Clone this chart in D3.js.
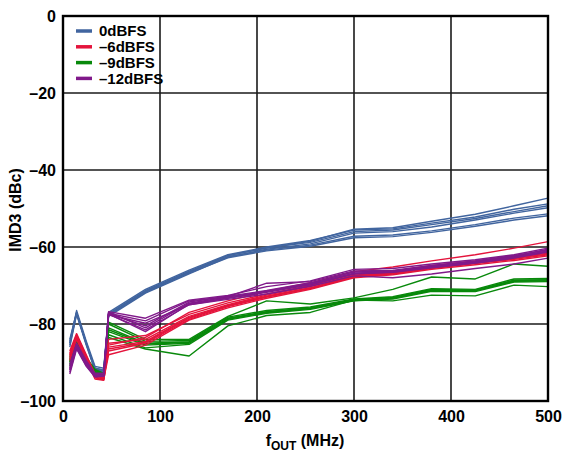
<!DOCTYPE html>
<html>
<head>
<meta charset="utf-8">
<script src="https://cdn.jsdelivr.net/npm/d3@7"></script>
<style>
  html, body { margin: 0; padding: 0; background: #fff; }
  svg text { font-family: "Liberation Sans", Arial, sans-serif; font-weight: bold; fill: #000; }
</style>
</head>
<body>
<svg id="chart" width="562" height="457"></svg>
<script>
// Output frequency (MHz) at which IMD3 was measured
const freqs = [7, 14, 24, 33, 42, 47, 85, 130, 170, 210, 255, 300, 340, 380, 425, 465, 500];

// IMD3 (dBc), one row per device, for each output level
const imd0dBFS = [
  [-84, -77, -85, -91.5, -92, -77.5, -71.5, -66.5, -62.2, -60.2, -58.8, -56, -55.6, -54.2, -52.6, -50.8, -49.3],
  [-85, -76.5, -84.5, -91, -91.5, -77, -71, -66, -62, -60, -58.3, -55.6, -55.3, -53.8, -52.2, -50.2, -48.8],
  [-86, -77.5, -85.5, -92, -92.5, -78, -72, -67, -62.6, -60.6, -59.2, -56.4, -56, -54.8, -53, -51.2, -49.8],
  [-84.5, -77, -85, -91.5, -92, -77.3, -71.3, -66.3, -62.2, -60.3, -58.5, -55.4, -55, -53.3, -51.5, -49.3, -47.3],
  [-85.5, -77.3, -85.2, -92, -92.3, -77.8, -71.8, -66.8, -62.8, -61, -59.8, -57.6, -57.3, -56.2, -54.6, -53, -51.9],
  [-85, -77.2, -85, -91.8, -92.2, -77.6, -71.6, -66.6, -62.5, -60.8, -59.5, -57.2, -56.9, -55.8, -54.2, -52.5, -51.4]
];
const imdMinus6dBFS = [
  [-87, -82.5, -88, -93, -94, -84, -83, -77.5, -74.5, -72.2, -70, -67, -66.2, -64.8, -63.6, -62.4, -61.2],
  [-88, -83, -88.5, -93.5, -94, -85, -84, -78, -75, -72.5, -70.3, -67.3, -66.5, -65, -63.8, -62.6, -61.3],
  [-89, -83.5, -89, -94, -94.5, -86, -84.5, -78.3, -75.2, -72.8, -70.6, -67.5, -66.7, -65.3, -64, -62.8, -61.6],
  [-87.5, -82.8, -88.3, -93.3, -93.8, -87, -85, -78.8, -75.5, -73, -70.8, -67.8, -67, -65.6, -64.3, -63.2, -62],
  [-88.5, -83.2, -88.8, -93.8, -94.3, -88, -85.5, -79, -75.8, -73.3, -71, -68, -67.2, -65.8, -64.6, -63.5, -62.3],
  [-88, -83, -88.5, -93.5, -94, -85.5, -83.5, -77, -74, -71.5, -69.3, -66.4, -65.2, -63.6, -62, -60.3, -58.6],
  [-89.5, -84, -89.5, -94.3, -94.6, -86.5, -84.8, -78.5, -75.3, -72.9, -70.7, -67.6, -66.9, -65.5, -64.2, -63, -61.8]
];
const imdMinus9dBFS = [
  [-89, -84, -89, -92, -93, -80, -84.5, -84.3, -78.2, -76.5, -75.6, -73.5, -72.9, -70.8, -71, -68.3, -68.2],
  [-90, -84.5, -89.5, -92.3, -93.3, -81, -85, -84.6, -78.5, -76.8, -75.8, -73.7, -73.1, -71, -71.2, -68.6, -68.5],
  [-91, -85, -90, -92.6, -93.5, -82, -85.5, -85, -78.8, -77, -76, -73.9, -73.3, -71.3, -71.4, -68.9, -68.8],
  [-88.5, -83.8, -88.7, -91.8, -92.8, -82.8, -86.2, -85.3, -79, -77.2, -76.2, -74, -73.5, -71.5, -71.6, -69.1, -69],
  [-89.5, -84.2, -89.2, -92.2, -93.1, -79.5, -84, -84, -78, -74, -74.8, -73.2, -71, -67.8, -68.3, -64.4, -65],
  [-90.5, -84.8, -89.8, -92.5, -93.4, -83.5, -86.5, -88.3, -80.5, -77.8, -77, -73.8, -74, -72.5, -72.7, -69.9, -70.3],
  [-89.8, -84.3, -89.4, -92.1, -93.2, -81.5, -85.2, -84.8, -78.6, -76.9, -75.9, -73.8, -73.2, -71.1, -71.3, -68.7, -68.6]
];
const imdMinus12dBFS = [
  [-91, -85.5, -90, -93, -93, -77, -81, -74.6, -73, -71.5, -69.5, -66.8, -66.4, -65.2, -64, -62.6, -61],
  [-92, -86, -90.5, -93.5, -93.2, -77.3, -80.5, -74.3, -72.8, -71.3, -69.3, -66.5, -66.2, -65, -63.8, -62.4, -60.6],
  [-93, -86.5, -91, -93.8, -93.5, -77.6, -79.8, -75, -73.3, -71.8, -69.8, -67, -66.6, -65.4, -64.2, -62.9, -61.3],
  [-90.5, -85, -89.5, -92.8, -92.8, -76.8, -78.5, -73.8, -72.6, -70.3, -68.8, -65.8, -65.6, -64.4, -63.3, -62, -60.3],
  [-91.5, -85.8, -90.2, -93.2, -93.4, -77.5, -81.5, -75, -73.6, -72.2, -70.2, -67.5, -68, -67, -65.6, -64.4, -62.9],
  [-92.5, -86.2, -90.8, -93.6, -93.6, -77.2, -79.2, -74, -72.9, -69.4, -69, -66.2, -66.1, -64.8, -63.6, -62.2, -60.8],
  [-91.8, -85.6, -90.4, -93.4, -93.3, -77.4, -82, -74.8, -73.2, -71.6, -69.6, -66.9, -66.5, -65.3, -64.1, -62.7, -61.1]
];

const seriesNames = ["0dBFS", "\u20136dBFS", "\u20139dBFS", "\u201312dBFS"];
const seriesColors = ["#41659f", "#e4143c", "#08890b", "#80198a"];
const xTicks = [0, 100, 200, 300, 400, 500];
const yTicks = [0, -20, -40, -60, -80, -100];

const seriesData = [imd0dBFS, imdMinus6dBFS, imdMinus9dBFS, imdMinus12dBFS];
const drawOrder = [0, 2, 1, 3];

const svg = d3.select("#chart");
const plot = { left: 63, right: 548, top: 16, bottom: 401 };

const x = d3.scaleLinear().domain([0, 500]).range([plot.left, plot.right]);
const y = d3.scaleLinear().domain([-100, 0]).range([plot.bottom, plot.top]);

const fmt = v => (v < 0 ? "\u2013" + Math.abs(v) : String(v));

// Grid
const grid = svg.append("g");
grid.selectAll("line.v").data(xTicks.slice(1, -1)).join("line")
  .attr("x1", d => x(d)).attr("x2", d => x(d))
  .attr("y1", plot.top).attr("y2", plot.bottom)
  .attr("stroke", "#1a1a1a").attr("stroke-width", 1.6);
grid.selectAll("line.h").data(yTicks.slice(1, -1)).join("line")
  .attr("x1", plot.left).attr("x2", plot.right)
  .attr("y1", d => y(d)).attr("y2", d => y(d))
  .attr("stroke", "#1a1a1a").attr("stroke-width", 1.6);

// Traces
const line = d3.line().x((d, i) => x(freqs[i])).y(d => y(d));
const traces = svg.append("g");
drawOrder.forEach(s => {
  traces.append("g").selectAll("path").data(seriesData[s]).join("path")
    .attr("d", line)
    .attr("fill", "none")
    .attr("stroke", seriesColors[s])
    .attr("stroke-width", 1.4)
    .attr("stroke-linejoin", "round");
});

// Frame
svg.append("rect")
  .attr("x", plot.left).attr("y", plot.top)
  .attr("width", plot.right - plot.left).attr("height", plot.bottom - plot.top)
  .attr("fill", "none").attr("stroke", "#000").attr("stroke-width", 2.4);

// Axes
const xAxis = svg.append("g").attr("transform", `translate(0,${plot.bottom})`)
  .call(d3.axisBottom(x).tickValues(xTicks).tickSize(0).tickPadding(10).tickFormat(fmt));
const yAxis = svg.append("g").attr("transform", `translate(${plot.left},0)`)
  .call(d3.axisLeft(y).tickValues(yTicks).tickSize(0).tickPadding(7).tickFormat(fmt));
[xAxis, yAxis].forEach(a => {
  a.select(".domain").remove();
  a.selectAll("text").attr("font-size", 16).attr("font-family", "Liberation Sans, Arial, sans-serif").attr("font-weight", "bold");
});

// Axis titles
const xt = svg.append("text").attr("x", 305).attr("y", 446).attr("text-anchor", "middle").attr("font-size", 16);
xt.append("tspan").text("f");
xt.append("tspan").attr("font-size", 12).attr("dy", 4).text("OUT");
xt.append("tspan").attr("dy", -4).text(" (MHz)");

svg.append("text")
  .attr("transform", "translate(21,210) rotate(-90)")
  .attr("text-anchor", "middle").attr("font-size", 16)
  .text("IMD3 (dBc)");

// Legend
const legend = svg.append("g").attr("transform", "translate(76,31)");
seriesNames.forEach((name, i) => {
  const g = legend.append("g").attr("transform", `translate(0,${i * 15.8})`);
  g.append("line").attr("x1", 0).attr("x2", 16).attr("y1", 0).attr("y2", 0)
    .attr("stroke", seriesColors[i]).attr("stroke-width", 3.5);
  g.append("text").attr("x", 23).attr("y", 0).attr("dy", "0.36em")
    .attr("font-size", 15).text(name);
});
</script>
</body>
</html>
